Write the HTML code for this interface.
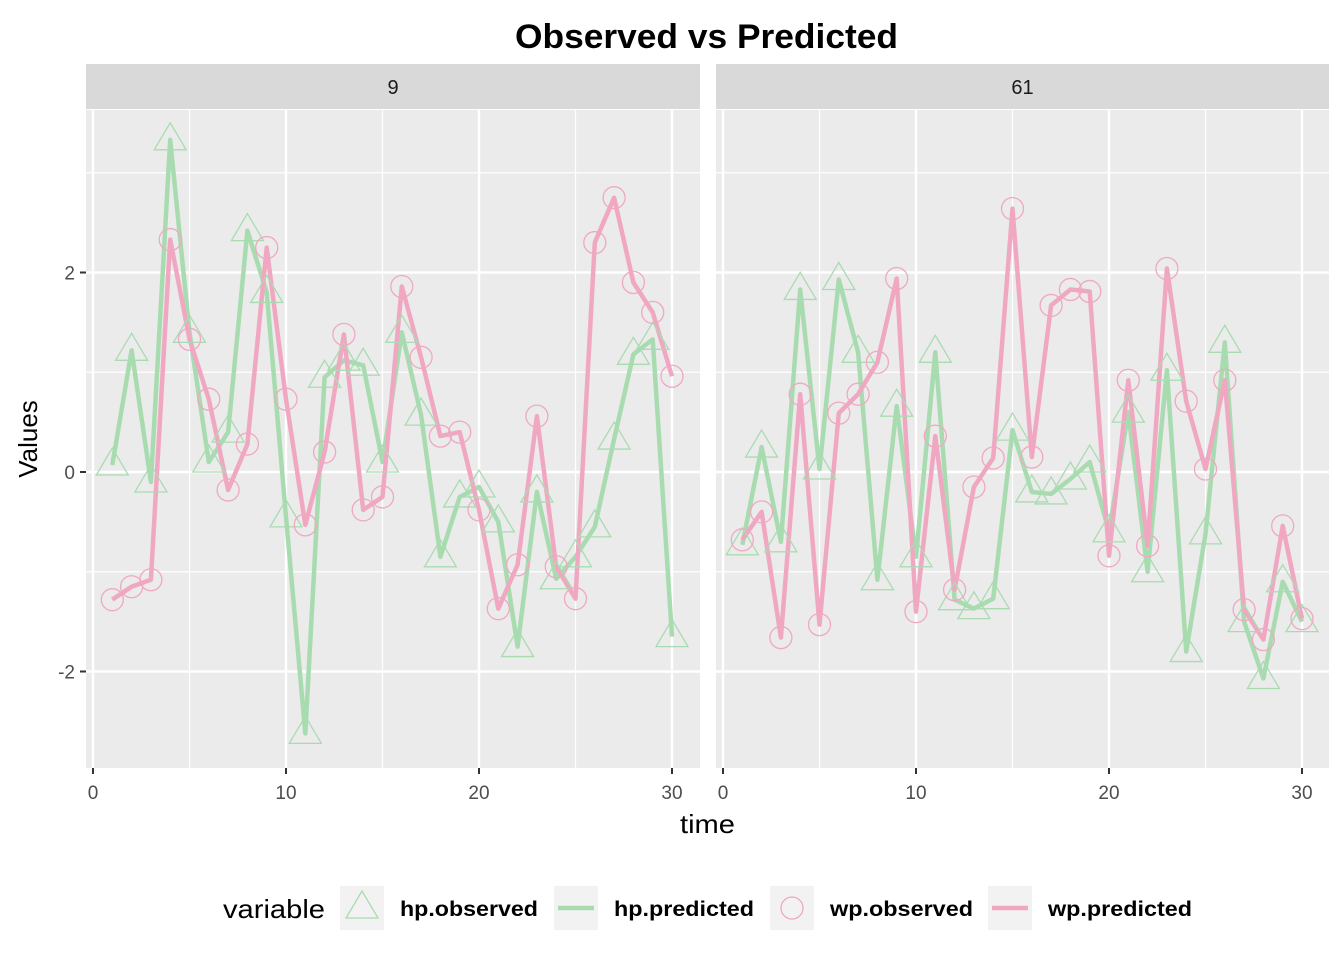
<!DOCTYPE html>
<html><head><meta charset="utf-8"><style>
body{margin:0;background:#fff}
svg{display:block;font-family:"Liberation Sans",sans-serif}
</style></head><body>
<svg id="c" width="1344" height="960" xmlns="http://www.w3.org/2000/svg"></svg>
<script>
const times=[];for(let i=1;i<=30;i++)times.push(i);
const panelNames=["9","61"];
const hpObs9=[0.07,1.22,-0.1,3.33,1.4,0.1,0.4,2.42,1.8,-0.45,-2.62,0.95,1.12,1.07,0.1,1.4,0.57,-0.85,-0.25,-0.15,-0.5,-1.75,-0.2,-1.07,-0.85,-0.55,0.33,1.18,1.33,-1.65];
const hpPred9=[0.07,1.22,-0.1,3.33,1.4,0.1,0.4,2.42,1.8,-0.45,-2.62,0.95,1.12,1.07,0.1,1.4,0.57,-0.85,-0.25,-0.15,-0.5,-1.75,-0.2,-1.07,-0.85,-0.55,0.33,1.18,1.33,-1.65];
const wpObs9=[-1.28,-1.15,-1.08,2.33,1.33,0.73,-0.18,0.28,2.25,0.73,-0.53,0.2,1.38,-0.38,-0.25,1.86,1.15,0.36,0.4,-0.38,-1.37,-0.93,0.56,-0.95,-1.27,2.3,2.75,1.9,1.6,0.96];
const wpPred9=[-1.28,-1.15,-1.08,2.33,1.33,0.73,-0.18,0.28,2.25,0.73,-0.53,0.2,1.38,-0.38,-0.25,1.86,1.15,0.36,0.4,-0.38,-1.37,-0.93,0.56,-0.95,-1.27,2.3,2.75,1.9,1.6,0.96];
const hpObs61=[-0.73,0.25,-0.7,1.83,0.03,1.93,1.2,-1.08,0.66,-0.85,1.2,-1.28,-1.37,-1.27,0.42,-0.2,-0.22,-0.07,0.1,-0.6,0.6,-1.0,1.02,-1.8,-0.62,1.3,-1.5,-2.07,-1.1,-1.5];
const hpPred61=[-0.73,0.25,-0.7,1.83,0.03,1.93,1.2,-1.08,0.66,-0.85,1.2,-1.28,-1.37,-1.27,0.42,-0.2,-0.22,-0.07,0.1,-0.6,0.6,-1.0,1.02,-1.8,-0.62,1.3,-1.5,-2.07,-1.1,-1.5];
const wpObs61=[-0.68,-0.4,-1.66,0.78,-1.53,0.59,0.78,1.1,1.94,-1.4,0.36,-1.18,-0.15,0.14,2.64,0.15,1.67,1.83,1.81,-0.84,0.92,-0.74,2.04,0.71,0.03,0.92,-1.38,-1.68,-0.54,-1.47];
const wpPred61=[-0.68,-0.4,-1.66,0.78,-1.53,0.59,0.78,1.1,1.94,-1.4,0.36,-1.18,-0.15,0.14,2.64,0.15,1.67,1.83,1.81,-0.84,0.92,-0.74,2.04,0.71,0.03,0.92,-1.38,-1.68,-0.54,-1.47];
const xTicks=[0,10,20,30];
const yTicks=[-2,0,2];
const G="#a8dcb0",P="#f0a8c2";
const svg=document.getElementById('c');
const NS="http://www.w3.org/2000/svg";
function mk(t,a,p){const e=document.createElementNS(NS,t);for(const k in a)e.setAttribute(k,a[k]);(p||svg).appendChild(e);return e;}
const y=v=>472-v*99.75;
const panels=[{x0:86,x1:700,o:93,hpO:hpObs9,hpP:hpPred9,wpO:wpObs9,wpP:wpPred9},{x0:716,x1:1329,o:723,hpO:hpObs61,hpP:hpPred61,wpO:wpObs61,wpP:wpPred61}];
let t=mk('text',{x:515,y:48,'font-size':34,'font-weight':'bold',textLength:383,lengthAdjust:'spacingAndGlyphs'});t.textContent="Observed vs Predicted";

panels.forEach((p,pi)=>{
  const x=v=>p.o+v*19.3;
  const g=mk('g',{});
  
  
  mk('rect',{x:p.x0,y:64,width:p.x1-p.x0,height:45,fill:'#d9d9d9'},g);
  const s=mk('text',{x:(p.x0+p.x1)/2,y:94,'text-anchor':'middle','font-size':20,fill:'#1a1a1a'},g);s.textContent=panelNames[pi];
  
  mk('rect',{x:p.x0,y:110,width:p.x1-p.x0,height:658,fill:'#ebebeb'},g);
  [-3,-1,1,3].forEach(v=>mk('line',{x1:p.x0,x2:p.x1,y1:y(v),y2:y(v),stroke:'#fff','stroke-width':1.2},g));
  [5,15,25].forEach(v=>mk('line',{x1:x(v),x2:x(v),y1:110,y2:768,stroke:'#fff','stroke-width':1.2},g));
  yTicks.forEach(v=>mk('line',{x1:p.x0,x2:p.x1,y1:y(v),y2:y(v),stroke:'#fff','stroke-width':2.4},g));
  xTicks.forEach(v=>{mk('line',{x1:x(v),x2:x(v),y1:110,y2:768,stroke:'#fff','stroke-width':2.4},g);
    mk('line',{x1:x(v),x2:x(v),y1:768,y2:774,stroke:'#333','stroke-width':2},g);
    const tl=mk('text',{x:x(v),y:799,'text-anchor':'middle','font-size':19,fill:'#4d4d4d'},g);tl.textContent=v;
    });
  const line=(arr,c,n)=>{const l=mk('polyline',{points:arr.map((v,i)=>x(times[i])+','+y(v)).join(' '),fill:'none',stroke:c,'stroke-width':4.5,'stroke-linejoin':'round'},g);
    };
  line(p.hpP,G,'hp-predicted-line');line(p.wpP,P,'wp-predicted-line');
  p.hpO.forEach((v,i)=>{const cx=x(times[i]),cy=y(v);
    const tr=mk('polygon',{points:`${cx},${cy-17} ${cx-16},${cy+10} ${cx+16},${cy+10}`,fill:'none',stroke:G,'stroke-width':1.3},g);
    });
  p.wpO.forEach((v,i)=>{const ci=mk('circle',{cx:x(times[i]),cy:y(v),r:11,fill:'none',stroke:P,'stroke-width':1.3},g);
    });
});
yTicks.forEach(v=>{mk('line',{x1:80,x2:86,y1:y(v),y2:y(v),stroke:'#333','stroke-width':2});
  const tl=mk('text',{x:75,y:y(v)+7,'text-anchor':'end','font-size':19,fill:'#4d4d4d'});tl.textContent=v;
  });
t=mk('text',{x:680,y:833,'font-size':26,textLength:55,lengthAdjust:'spacingAndGlyphs'});t.textContent="time";

t=mk('text',{x:37,y:439,'text-anchor':'middle','font-size':26,transform:'rotate(-90 37 439)'});t.textContent="Values";

const lg=mk('g',{});

t=mk('text',{x:223,y:918,'font-size':26,textLength:102,lengthAdjust:'spacingAndGlyphs'},lg);t.textContent="variable";
const items=[{x:340,l:'hp.observed',k:'tri',w:138},{x:554,l:'hp.predicted',k:'gl',w:140},{x:770,l:'wp.observed',k:'cir',w:143},{x:988,l:'wp.predicted',k:'pl',w:144}];
items.forEach(it=>{const e=mk('g',{},lg);
  
  mk('rect',{x:it.x,y:886,width:44,height:44,fill:'#f2f2f2'},e);
  const cx=it.x+22,cy=908;
  if(it.k=='tri')mk('polygon',{points:`${cx},${cy-17} ${cx-16},${cy+10} ${cx+16},${cy+10}`,fill:'none',stroke:G,'stroke-width':1.3},e);
  if(it.k=='cir')mk('circle',{cx,cy,r:11,fill:'none',stroke:P,'stroke-width':1.3},e);
  if(it.k=='gl')mk('line',{x1:it.x+4,x2:it.x+40,y1:cy,y2:cy,stroke:G,'stroke-width':4.5},e);
  if(it.k=='pl')mk('line',{x1:it.x+4,x2:it.x+40,y1:cy,y2:cy,stroke:P,'stroke-width':4.5},e);
  const tx=mk('text',{x:it.x+60,y:916,'font-size':21,'font-weight':'bold',textLength:it.w,lengthAdjust:'spacingAndGlyphs'},e);tx.textContent=it.l;});
</script>
</body></html>
